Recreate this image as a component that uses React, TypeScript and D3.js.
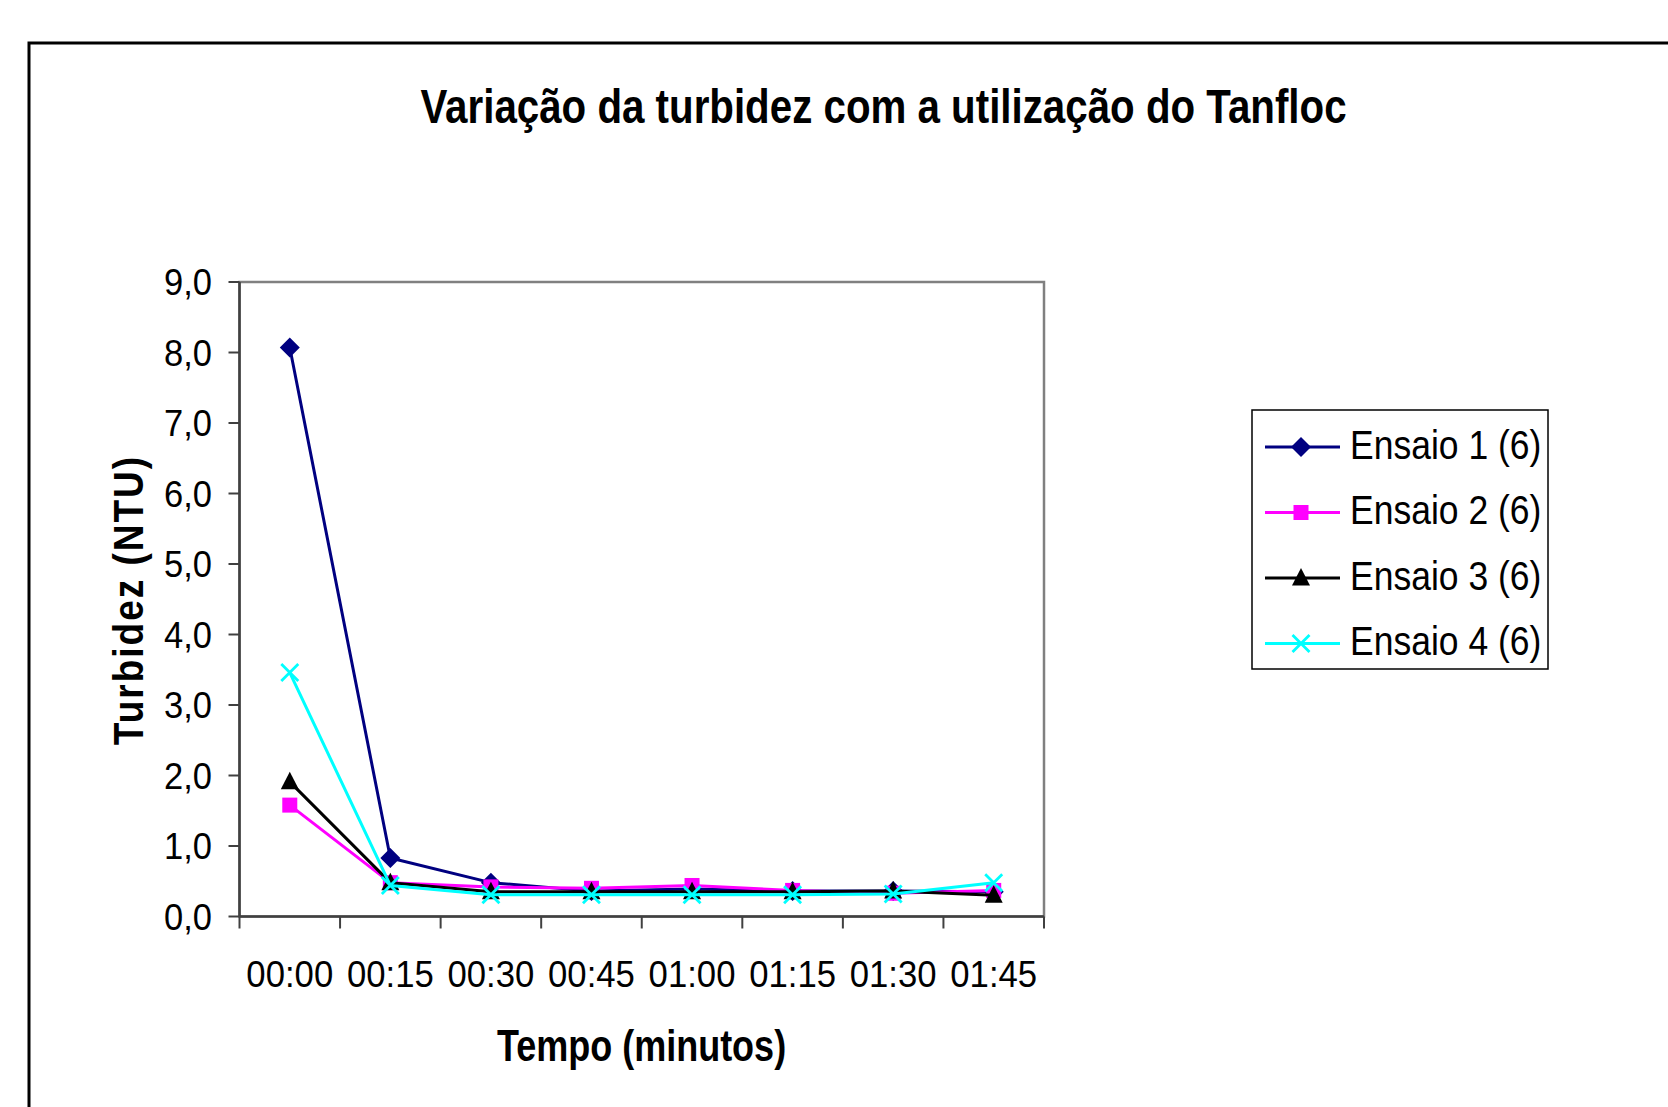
import React from "react";
import * as d3 from "d3";

const categories = ["00:00", "00:15", "00:30", "00:45", "01:00", "01:15", "01:30", "01:45"];
const ensaio1 = [8.07, 0.83, 0.48, 0.36, 0.39, 0.36, 0.36, 0.35];
const ensaio2 = [1.58, 0.48, 0.42, 0.40, 0.44, 0.37, 0.33, 0.37];
const ensaio3 = [1.91, 0.48, 0.35, 0.35, 0.35, 0.35, 0.36, 0.30];
const ensaio4 = [3.46, 0.44, 0.31, 0.31, 0.31, 0.31, 0.32, 0.48];
const seriesNames = ["Ensaio 1 (6)", "Ensaio 2 (6)", "Ensaio 3 (6)", "Ensaio 4 (6)"];
const seriesColors = ["#000080", "#FF00FF", "#000000", "#00FFFF"];
const seriesMarkers = ["diamond", "square", "triangle", "x"];
const yTicks = [0, 1, 2, 3, 4, 5, 6, 7, 8, 9];

const FONT = "'Liberation Sans', Arial, Helvetica, sans-serif";

const series = [ensaio1, ensaio2, ensaio3, ensaio4].map((values, i) => ({
  name: seriesNames[i],
  color: seriesColors[i],
  marker: seriesMarkers[i],
  values,
}));

function Marker({ type, x, y, color }: { type: string; x: number; y: number; color: string }) {
  if (type === "diamond") {
    const r = 10;
    return <path d={`M${x},${y - r}L${x + r},${y}L${x},${y + r}L${x - r},${y}Z`} fill={color} />;
  }
  if (type === "square") {
    const s = 7.5;
    return <rect x={x - s} y={y - s} width={2 * s} height={2 * s} fill={color} />;
  }
  if (type === "triangle") {
    const w = 9;
    return <path d={`M${x},${y - 10}L${x + w},${y + 7.5}L${x - w},${y + 7.5}Z`} fill={color} />;
  }
  const r = 8.5;
  return (
    <path
      d={`M${x - r},${y - r}L${x + r},${y + r}M${x - r},${y + r}L${x + r},${y - r}`}
      stroke={color}
      strokeWidth={2.8}
      fill="none"
    />
  );
}

function T({
  x,
  y,
  sy = 1,
  rotate = 0,
  size,
  weight = "normal",
  anchor = "start",
  spacing = 0,
  children,
}: any) {
  return (
    <g transform={`translate(${x},${y}) rotate(${rotate}) scale(1,${sy})`}>
      <text
        x={0}
        y={0}
        fontFamily={FONT}
        fontSize={size}
        fontWeight={weight}
        textAnchor={anchor}
        letterSpacing={spacing}
        fill="#000"
      >
        {children}
      </text>
    </g>
  );
}

export default function App() {
  const W = 1668;
  const H = 1107;
  const left = 239.5;
  const right = 1044;
  const top = 282;
  const bottom = 916.5;

  const x = d3.scaleBand<string>().domain(categories).range([left, right]).paddingInner(0).paddingOuter(0);
  const bw = x.bandwidth();
  const cx = (c: string) => (x(c) as number) + bw / 2;
  const y = d3.scaleLinear().domain([0, 9]).range([bottom, top]);

  const line = d3
    .line<number>()
    .x((_, i) => cx(categories[i]))
    .y((v) => y(v));

  const boundaries = categories.map((c) => x(c) as number).concat([right]);

  const legendX = 1252;
  const legendY = 410;
  const rowY = (i: number) => 447 + i * 65.5;

  return (
    <svg
      width={W}
      height={H}
      style={{ position: "absolute", left: 0, top: 0, background: "#fff" }}
      xmlns="http://www.w3.org/2000/svg"
    >
      <rect x={0} y={0} width={W} height={H} fill="#fff" />
      {/* outer chart border */}
      <rect x={29} y={43} width={1700} height={1200} fill="none" stroke="#000" strokeWidth={3} />

      {/* title */}
      <T x={883.5} y={122.5} sy={1.2} size={40.3} weight="bold" anchor="middle">
        Variação da turbidez com a utilização do Tanfloc
      </T>

      {/* plot area border */}
      <rect x={left} y={top} width={right - left} height={bottom - top} fill="#fff" stroke="#808080" strokeWidth={2.5} />
      {/* axes */}
      <line x1={left} x2={left} y1={top} y2={bottom} stroke="#404040" strokeWidth={2.5} />
      <line x1={left} x2={right} y1={bottom} y2={bottom} stroke="#404040" strokeWidth={2.5} />

      {/* y ticks */}
      {yTicks.map((t) => (
        <g key={"y" + t}>
          <line x1={left - 11} x2={left} y1={y(t)} y2={y(t)} stroke="#404040" strokeWidth={2} />
          <T x={212} y={y(t) + 13} sy={1.08} size={34.5} anchor="end">
            {d3.format(".1f")(t).replace(".", ",")}
          </T>
        </g>
      ))}

      {/* x ticks */}
      {boundaries.map((b, i) => (
        <line key={"xt" + i} x1={b} x2={b} y1={bottom} y2={bottom + 12} stroke="#404040" strokeWidth={2} />
      ))}
      {categories.map((c) => (
        <T key={"xl" + c} x={cx(c)} y={987} sy={1.08} size={34.7} anchor="middle">
          {c}
        </T>
      ))}

      {/* axis titles */}
      <T x={641.5} y={1061} sy={1.23} size={36} weight="bold" anchor="middle">
        Tempo (minutos)
      </T>
      <T x={142.5} y={600} rotate={-90} sy={1.17} size={37} weight="bold" anchor="middle" spacing={2}>
        Turbidez (NTU)
      </T>

      {/* series */}
      {series.map((s) => (
        <g key={s.name}>
          <path d={line(s.values) as string} fill="none" stroke={s.color} strokeWidth={3} strokeLinejoin="round" />
          {s.values.map((v, i) => (
            <Marker key={i} type={s.marker} x={cx(categories[i])} y={y(v)} color={s.color} />
          ))}
        </g>
      ))}

      {/* legend */}
      <rect x={legendX} y={legendY} width={296} height={259} fill="#fff" stroke="#000" strokeWidth={1.5} />
      {series.map((s, i) => (
        <g key={"lg" + s.name}>
          <line x1={1265} x2={1340} y1={rowY(i)} y2={rowY(i)} stroke={s.color} strokeWidth={3} />
          <Marker type={s.marker} x={1301} y={rowY(i)} color={s.color} />
          <T x={1350} y={rowY(i) + 11.5} sy={1.15} size={35.5}>
            {s.name}
          </T>
        </g>
      ))}
    </svg>
  );
}
